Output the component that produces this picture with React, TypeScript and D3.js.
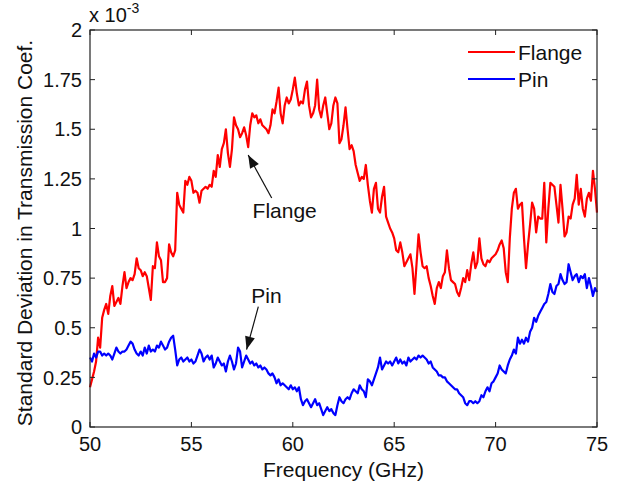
import React from "react";
import * as d3 from "d3";

const FREQ_START = 50;
const FREQ_STEP = 0.1;

// Standard deviation (x 1e-3), sampled every 0.1 GHz from 50 to 75 GHz
const flangeValues = [
  0.20, 0.24, 0.28, 0.33, 0.45, 0.40, 0.55, 0.59, 0.62, 0.57,
  0.66, 0.71, 0.61, 0.63, 0.65, 0.62, 0.71, 0.78, 0.70, 0.73,
  0.75, 0.74, 0.77, 0.85, 0.80, 0.79, 0.76, 0.78, 0.76, 0.70,
  0.64, 0.81, 0.80, 0.93, 0.86, 0.84, 0.73, 0.73, 0.75, 0.92,
  0.88, 0.86, 0.89, 1.18, 1.12, 1.10, 1.08, 1.24, 1.22, 1.26,
  1.24, 1.18, 1.19, 1.18, 1.13, 1.19, 1.20, 1.21, 1.20, 1.22,
  1.21, 1.29, 1.26, 1.37, 1.31, 1.40, 1.43, 1.50, 1.38, 1.31,
  1.40, 1.56, 1.52, 1.50, 1.46, 1.48, 1.51, 1.47, 1.41, 1.52,
  1.58, 1.56, 1.57, 1.53, 1.55, 1.52, 1.51, 1.50, 1.48, 1.52,
  1.60, 1.58, 1.64, 1.71, 1.58, 1.53, 1.62, 1.66, 1.63, 1.65,
  1.70, 1.76, 1.68, 1.62, 1.64, 1.63, 1.70, 1.74, 1.62, 1.56,
  1.58, 1.62, 1.75, 1.60, 1.56, 1.62, 1.66, 1.58, 1.50, 1.53,
  1.62, 1.66, 1.63, 1.43, 1.45, 1.52, 1.61, 1.50, 1.40, 1.42,
  1.39, 1.32, 1.28, 1.24, 1.26, 1.25, 1.32, 1.22, 1.14, 1.08,
  1.20, 1.23, 1.10, 1.08, 1.16, 1.21, 1.06, 1.03, 1.00, 0.98,
  0.95, 0.89, 0.88, 0.93, 0.88, 0.81, 0.83, 0.85, 0.87, 0.80,
  0.67, 0.82, 0.97, 0.88, 0.81, 0.80, 0.81, 0.75, 0.71, 0.66,
  0.62, 0.70, 0.73, 0.70, 0.76, 0.78, 0.89, 0.80, 0.74, 0.73,
  0.72, 0.68, 0.66, 0.70, 0.75, 0.73, 0.79, 0.74, 0.82, 0.88,
  0.80, 0.83, 0.95, 0.85, 0.82, 0.81, 0.84, 0.83, 0.85, 0.86,
  0.87, 0.89, 0.92, 0.94, 0.90, 0.78, 0.73, 0.95, 1.10, 1.18,
  1.20, 1.10, 1.12, 1.13, 0.95, 0.80, 0.92, 1.02, 1.13, 1.10,
  0.98, 1.06, 1.05, 1.05, 1.23, 0.93, 1.10, 1.23, 1.22, 1.21,
  1.12, 1.03, 1.22, 1.10, 0.96, 0.98, 1.06, 1.05, 1.12, 1.15,
  1.27, 1.12, 1.20, 1.10, 1.06, 1.15, 1.18, 1.14, 1.29, 1.20,
  1.08,
];

const pinValues = [
  0.35, 0.33, 0.37, 0.35, 0.38, 0.38, 0.36, 0.37, 0.36, 0.37,
  0.36, 0.34, 0.37, 0.40, 0.38, 0.37, 0.38, 0.38, 0.39, 0.41,
  0.43, 0.42, 0.39, 0.37, 0.36, 0.38, 0.36, 0.40, 0.37, 0.41,
  0.38, 0.39, 0.38, 0.41, 0.40, 0.43, 0.41, 0.39, 0.40, 0.43,
  0.45, 0.46, 0.39, 0.31, 0.34, 0.35, 0.33, 0.34, 0.35, 0.33,
  0.34, 0.32, 0.33, 0.36, 0.39, 0.37, 0.33, 0.35, 0.36, 0.34,
  0.36, 0.30, 0.32, 0.35, 0.33, 0.31, 0.32, 0.28, 0.33, 0.36,
  0.33, 0.29, 0.32, 0.40, 0.38, 0.30, 0.33, 0.36, 0.34, 0.32,
  0.33, 0.31, 0.32, 0.30, 0.31, 0.29, 0.30, 0.29, 0.27, 0.26,
  0.27, 0.25, 0.22, 0.24, 0.21, 0.22, 0.21, 0.20, 0.19, 0.21,
  0.19, 0.20, 0.18, 0.20, 0.14, 0.11, 0.13, 0.14, 0.12, 0.10,
  0.12, 0.14, 0.11, 0.12, 0.09, 0.06, 0.08, 0.10, 0.08, 0.09,
  0.07, 0.06, 0.11, 0.15, 0.13, 0.12, 0.14, 0.15, 0.14, 0.17,
  0.19, 0.18, 0.17, 0.21, 0.19, 0.18, 0.15, 0.24, 0.23, 0.21,
  0.24, 0.27, 0.30, 0.35, 0.29, 0.31, 0.33, 0.32, 0.33, 0.31,
  0.33, 0.35, 0.32, 0.34, 0.32, 0.33, 0.31, 0.35, 0.33, 0.34,
  0.35, 0.34, 0.36, 0.35, 0.36, 0.35, 0.34, 0.32, 0.33, 0.30,
  0.29, 0.28, 0.26, 0.26, 0.25, 0.25, 0.23, 0.22, 0.21, 0.20,
  0.19, 0.19, 0.17, 0.16, 0.15, 0.12, 0.11, 0.13, 0.13, 0.12,
  0.13, 0.12, 0.13, 0.16, 0.15, 0.18, 0.20, 0.18, 0.22, 0.23,
  0.25, 0.27, 0.31, 0.29, 0.28, 0.27, 0.31, 0.34, 0.36, 0.39,
  0.37, 0.45, 0.42, 0.44, 0.42, 0.45, 0.43, 0.48, 0.50, 0.55,
  0.53, 0.56, 0.58, 0.60, 0.62, 0.63, 0.67, 0.72, 0.68, 0.67,
  0.71, 0.72, 0.77, 0.74, 0.72, 0.73, 0.82, 0.78, 0.74, 0.76,
  0.77, 0.73, 0.76, 0.75, 0.77, 0.70, 0.75, 0.71, 0.66, 0.70,
  0.68,
];

const xTicks = [50, 55, 60, 65, 70, 75];
const xTickLabels = ["50", "55", "60", "65", "70", "75"];
const yTicks = [0, 0.25, 0.5, 0.75, 1, 1.25, 1.5, 1.75, 2];
const yTickLabels = ["0", "0.25", "0.5", "0.75", "1", "1.25", "1.5", "1.75", "2"];

const seriesNames = ["Flange", "Pin"];
const seriesColors = ["#ff0000", "#0000ff"];

const W = 628;
const H = 485;
const M = { left: 90, right: 597, top: 30, bottom: 427 };
const FONT = "Arial, 'Liberation Sans', Helvetica, sans-serif";

export default function App() {
  const x = d3.scaleLinear().domain([50, 75]).range([M.left, M.right]);
  const y = d3.scaleLinear().domain([0, 2]).range([M.bottom, M.top]);
  const toPts = (vals: number[]) =>
    vals.map((v, i) => [FREQ_START + i * FREQ_STEP, v] as [number, number]);
  const line = d3
    .line<[number, number]>()
    .x((d) => x(d[0]))
    .y((d) => y(d[1]));
  const series = [flangeValues, pinValues];
  const tickLen = 5;

  // annotation arrows (in data coords)
  const annotations = [
    { text: "Flange", tx: 59.6, ty: 1.055, from: [58.96, 1.154], to: [57.8, 1.37] },
    { text: "Pin", tx: 58.7, ty: 0.625, from: [58.3, 0.606], to: [57.72, 0.39] },
  ];

  const arrowHead = (x1: number, y1: number, x2: number, y2: number) => {
    const ang = Math.atan2(y2 - y1, x2 - x1);
    const len = 13;
    const half = 5;
    const bx = x2 - len * Math.cos(ang);
    const by = y2 - len * Math.sin(ang);
    const px = -Math.sin(ang) * half;
    const py = Math.cos(ang) * half;
    return `M${x2},${y2}L${bx + px},${by + py}L${bx - px},${by - py}Z`;
  };

  return (
    <>
      <style>{"body{margin:0}"}</style>
      <svg width={W} height={H} style={{ display: "block", background: "#fff" }} fontFamily={FONT}>
        <rect x={0} y={0} width={W} height={H} fill="#fff" />
        {/* data lines */}
        {series.map((vals, k) => (
          <path
            key={k}
            d={line(toPts(vals)) || ""}
            fill="none"
            stroke={seriesColors[k]}
            strokeWidth={2.2}
            strokeLinejoin="round"
          />
        ))}
        {/* axes box */}
        <rect
          x={M.left}
          y={M.top}
          width={M.right - M.left}
          height={M.bottom - M.top}
          fill="none"
          stroke="#222"
          strokeWidth={1.2}
        />
        {/* x ticks */}
        {xTicks.map((t, i) => (
          <g key={"x" + i}>
            <line x1={x(t)} x2={x(t)} y1={M.bottom} y2={M.bottom - tickLen} stroke="#222" />
            <line x1={x(t)} x2={x(t)} y1={M.top} y2={M.top + tickLen} stroke="#222" />
            <text x={x(t)} y={451} textAnchor="middle" fontSize={20} fill="#111">
              {xTickLabels[i]}
            </text>
          </g>
        ))}
        {/* y ticks */}
        {yTicks.map((t, i) => (
          <g key={"y" + i}>
            <line x1={M.left} x2={M.left + tickLen} y1={y(t)} y2={y(t)} stroke="#222" />
            <line x1={M.right} x2={M.right - tickLen} y1={y(t)} y2={y(t)} stroke="#222" />
            <text x={M.left - 8} y={y(t)} dy="0.36em" textAnchor="end" fontSize={20} fill="#111">
              {yTickLabels[i]}
            </text>
          </g>
        ))}
        {/* exponent */}
        <text x={89} y={22} fontSize={20} fill="#111">
          x 10
          <tspan dy={-9} fontSize={14}>-3</tspan>
        </text>
        {/* axis labels */}
        <text x={(M.left + M.right) / 2} y={477} textAnchor="middle" fontSize={21} fill="#111">
          Frequency (GHz)
        </text>
        <text
          transform={`translate(32,233) rotate(-90)`}
          textAnchor="middle"
          fontSize={21}
          fill="#111"
        >
          Standard Deviation in Transmission Coef.
        </text>
        {/* legend */}
        {seriesNames.map((n, k) => (
          <g key={"l" + k}>
            <line x1={468} x2={515} y1={52 + k * 27} y2={52 + k * 27} stroke={seriesColors[k]} strokeWidth={2.2} />
            <text x={518} y={52 + k * 27} dy="0.36em" fontSize={21} fill="#111">
              {n}
            </text>
          </g>
        ))}
        {/* annotations */}
        {annotations.map((a, i) => {
          const x1 = x(a.from[0]);
          const y1 = y(a.from[1]);
          const x2 = x(a.to[0]);
          const y2 = y(a.to[1]);
          return (
            <g key={"a" + i}>
              <line x1={x1} y1={y1} x2={x2} y2={y2} stroke="#111" strokeWidth={1.2} />
              <path d={arrowHead(x1, y1, x2, y2)} fill="#111" />
              <text x={x(a.tx)} y={y(a.ty)} textAnchor="middle" fontSize={21} fill="#111">
                {a.text}
              </text>
            </g>
          );
        })}
      </svg>
    </>
  );
}
